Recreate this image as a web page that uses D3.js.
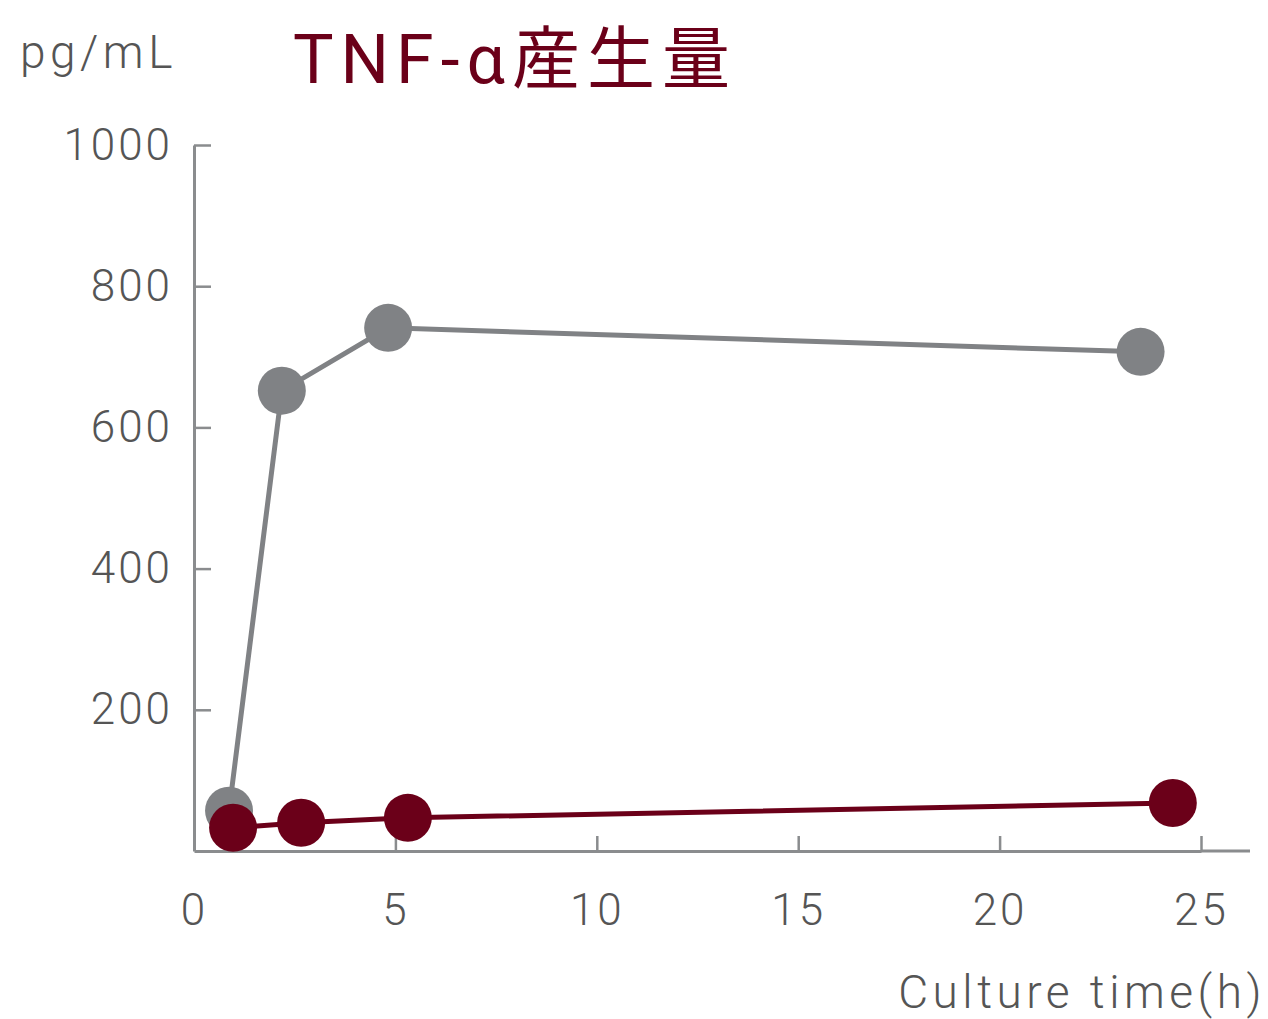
<!DOCTYPE html>
<html>
<head>
<meta charset="utf-8">
<script src="https://cdn.jsdelivr.net/npm/d3@7"></script>
<style>
  body { margin: 0; background: #fff; }
  svg { display: block; }
</style>
</head>
<body>
<svg id="chart"></svg>
<script>
// data
var seriesNames = ["control", "sample"];
var grayX = [0.87, 2.18, 4.82, 23.5];
var grayY = [57, 652, 741, 707];
var redX = [0.97, 2.66, 5.31, 24.3];
var redY = [33, 40, 47, 68];
var xTicks = [0, 5, 10, 15, 20, 25];
var yTicks = [200, 400, 600, 800, 1000];

var width = 1268, height = 1019;
var svg = d3.select("#chart").attr("width", width).attr("height", height);

var gray = "#808285", red = "#6b0019", axisCol = "#8a8c8e", textCol = "#555555";

var x = d3.scaleLinear().domain([0, 25]).range([194, 1201]);
var y = d3.scaleLinear().domain([0, 1000]).range([851, 145]);

// titles
svg.append("text")
    .attr("x", 20).attr("y", 68)
    .style("font-family", "Roboto").style("font-weight", 300)
    .style("font-size", "46px").style("letter-spacing", "4.5px")
    .style("fill", textCol)
    .text("pg/mL");

svg.append("text")
    .attr("x", 293).attr("y", 83)
    .style("font-family", "Roboto, 'Noto Sans CJK JP'")
    .style("font-size", "68px").style("letter-spacing", "7px")
    .style("fill", red)
    .text("TNF-α産生量");

// y axis
var yAxis = d3.axisLeft(y).tickValues(yTicks).tickFormat(d3.format("d"))
    .tickSizeInner(-17).tickSizeOuter(0).tickPadding(21);
var gy = svg.append("g").attr("transform", "translate(194,0)").call(yAxis);
// x axis
var xAxis = d3.axisBottom(x).tickValues(xTicks).tickSizeInner(-15).tickSizeOuter(0).tickPadding(0);
var gx = svg.append("g").attr("transform", "translate(0,851)").call(xAxis);

[gy, gx].forEach(function(g) {
  g.select(".domain").attr("stroke", axisCol).attr("stroke-width", 3);
  g.selectAll(".tick line").attr("stroke", axisCol).attr("stroke-width", 2.5);
  g.selectAll(".tick text")
    .style("font-family", "Roboto").style("font-weight", 300)
    .style("font-size", "44px").style("letter-spacing", "3px")
    .attr("fill", textCol);
});
gx.selectAll(".tick text").attr("y", 74).attr("dy", 0);
gx.selectAll(".tick").filter(function(d) { return d === 0; }).select("line").remove();

// x axis continues past the last tick
svg.append("line")
    .attr("x1", x(25)).attr("x2", 1250)
    .attr("y1", y(0)).attr("y2", y(0))
    .attr("stroke", axisCol).attr("stroke-width", 3);

svg.append("text")
    .attr("x", 1266).attr("y", 1008)
    .attr("text-anchor", "end")
    .style("font-family", "Roboto").style("font-weight", 300)
    .style("font-size", "46px").style("letter-spacing", "4.5px")
    .style("fill", textCol)
    .text("Culture time(h)");

// series
var line = d3.line().x(function(d) { return x(d[0]); }).y(function(d) { return y(d[1]); });
var series = [
  { name: seriesNames[0], color: gray, pts: d3.zip(grayX, grayY) },
  { name: seriesNames[1], color: red, pts: d3.zip(redX, redY) }
];

series.forEach(function(s) {
  svg.append("path")
      .datum(s.pts)
      .attr("d", line)
      .attr("fill", "none")
      .attr("stroke", s.color)
      .attr("stroke-width", 5);
  svg.append("g").selectAll("circle")
      .data(s.pts)
      .enter().append("circle")
      .attr("cx", function(d) { return x(d[0]); })
      .attr("cy", function(d) { return y(d[1]); })
      .attr("r", 24)
      .attr("fill", s.color);
});
</script>
</body>
</html>
